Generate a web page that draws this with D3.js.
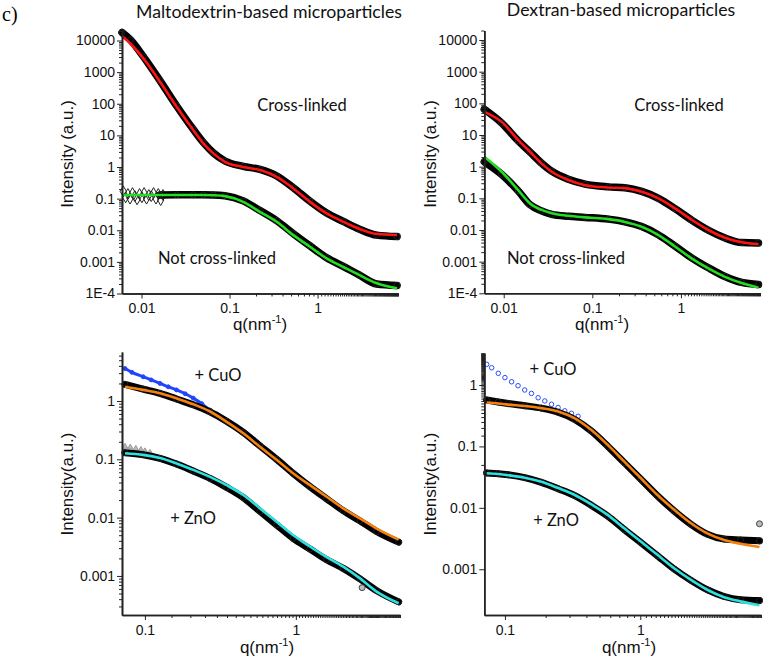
<!DOCTYPE html>
<meta charset="utf-8">
<style>
  body { margin: 0; background: #fff; }
  svg { font-family: "Liberation Sans", Arial, sans-serif; }
  .axis .tick text { font-size: 14px; fill: #111; font-family: "Liberation Sans", Arial, sans-serif; }
  .axis path { stroke: #222; stroke-width: 1.6; }
  .axis line { stroke: #222; stroke-width: 1; }
  .note { font-family: Lato, "Open Sans", sans-serif; font-size: 16.5px; fill: #111; }
  .title { font-family: Lato, "Open Sans", sans-serif; font-size: 17.7px; fill: #111; }
  .atitle { font-size: 17px; fill: #111; }
</style>
<svg width="764" height="659"></svg>
<script src="https://d3js.org/d3.v7.min.js"></script>
<script>

// ---- data ----
// top-left: maltodextrin, cross-linked / not cross-linked
var qMaltoTop = [0.006, 0.0075, 0.0105, 0.0162, 0.0251, 0.0387, 0.0503, 0.0655, 0.0887, 0.143, 0.222, 0.344, 0.531, 0.821, 1.27, 1.96, 3.0, 4.7, 8.0];
var maltoCrossData = [18000, 10500, 3100, 540, 85, 15.5, 6.0, 2.8, 1.55, 1.05, 0.84, 0.52, 0.22, 0.083, 0.035, 0.019, 0.0108, 0.0070, 0.0063];
var maltoCrossFit  = [14000, 7900, 2730, 497, 80, 14.7, 5.6, 2.7, 1.46, 1.0, 0.80, 0.49, 0.21, 0.079, 0.034, 0.0185, 0.011, 0.0076, 0.0071];
var maltoNotData   = [null, null, null, 0.13, 0.132, 0.132, 0.132, 0.131, 0.124, 0.085, 0.042, 0.020, 0.0078, 0.0032, 0.00135, 0.00072, 0.00038, 0.00020, 0.00018];
var maltoNotFit    = [0.13, 0.13, 0.13, 0.13, 0.13, 0.13, 0.13, 0.128, 0.12, 0.079, 0.038, 0.0185, 0.007, 0.003, 0.00128, 0.00069, 0.00038, 0.00021, 0.000145];
var qDiamond = [0.0062, 0.0066, 0.0070, 0.0074, 0.0079, 0.0084, 0.0089, 0.0095, 0.0101, 0.0107, 0.0114, 0.0121, 0.0129, 0.0137, 0.0146, 0.0155, 0.0165, 0.0175];
var iDiamond = [0.17, 0.11, 0.14, 0.10, 0.15, 0.12, 0.095, 0.14, 0.11, 0.15, 0.10, 0.13, 0.12, 0.15, 0.10, 0.14, 0.09, 0.13];

// top-right: dextran, cross-linked / not cross-linked
var qDextTop = [0.00604, 0.00948, 0.0146, 0.0198, 0.0267, 0.0348, 0.0537, 0.0829, 0.152, 0.234, 0.361, 0.557, 0.858, 1.32, 2.04, 3.14, 4.85, 7.5];
var dextCrossData = [65, 24, 6.5, 2.9, 1.3, 0.72, 0.40, 0.28, 0.23, 0.215, 0.165, 0.10, 0.047, 0.0205, 0.0098, 0.0056, 0.0040, 0.0039];
var dextCrossFit  = [54, 26, 6.9, 2.95, 1.27, 0.69, 0.38, 0.26, 0.22, 0.21, 0.16, 0.10, 0.048, 0.021, 0.010, 0.0057, 0.0041, 0.0036];
var dextNotData   = [1.43, 0.57, 0.17, 0.063, 0.040, 0.031, 0.027, 0.025, 0.022, 0.018, 0.0128, 0.0070, 0.0031, 0.00132, 0.00064, 0.00034, 0.00022, 0.00019];
var dextNotFit    = [2.06, 0.69, 0.18, 0.069, 0.043, 0.034, 0.028, 0.025, 0.022, 0.018, 0.0126, 0.0069, 0.0030, 0.00127, 0.00061, 0.00033, 0.00021, 0.00015];

// bottom-left: maltodextrin + CuO / + ZnO
var qMaltoBot = [0.0738, 0.0974, 0.126, 0.162, 0.209, 0.27, 0.348, 0.449, 0.579, 0.746, 0.962, 1.24, 1.6, 2.06, 2.66, 3.43, 4.8];
var maltoCuOData = [1.93, 1.6, 1.35, 1.08, 0.86, 0.65, 0.45, 0.29, 0.17, 0.10, 0.057, 0.034, 0.021, 0.0132, 0.0088, 0.0058, 0.0038];
var maltoCuOFit  = [1.76, 1.55, 1.36, 1.11, 0.88, 0.66, 0.44, 0.28, 0.164, 0.098, 0.057, 0.036, 0.0228, 0.0144, 0.0097, 0.0065, 0.0042];
var maltoZnOData = [0.13, 0.12, 0.104, 0.083, 0.063, 0.047, 0.033, 0.022, 0.0128, 0.0075, 0.0044, 0.0029, 0.0019, 0.00135, 0.00089, 0.00056, 0.00036];
var maltoZnOFit  = [0.127, 0.119, 0.105, 0.085, 0.066, 0.05, 0.036, 0.0244, 0.0144, 0.0085, 0.005, 0.0032, 0.0021, 0.00144, 0.00091, 0.00054, 0.00034];
var qMaltoCuORaw = [0.0738, 0.082, 0.0974, 0.11, 0.126, 0.143, 0.162, 0.185, 0.209, 0.238, 0.27, 0.3];
var maltoCuORaw  = [3.6, 3.1, 2.6, 2.3, 2.0, 1.75, 1.55, 1.33, 1.12, 0.9, 0.7, 0.6];
var qMaltoZnORaw = [0.0738, 0.080, 0.087, 0.094, 0.100, 0.108];
var maltoZnORaw  = [0.165, 0.160, 0.152, 0.145, 0.138, 0.130];

// bottom-right: dextran + CuO / + ZnO
var qDextBot = [0.0733, 0.0893, 0.1057, 0.14, 0.186, 0.247, 0.328, 0.435, 0.577, 0.765, 1.015, 1.346, 1.79, 2.37, 3.15, 4.17, 5.5, 7.6];
var dextCuOData = [0.57, 0.53, 0.50, 0.46, 0.42, 0.36, 0.275, 0.178, 0.10, 0.054, 0.029, 0.0155, 0.0088, 0.0054, 0.0037, 0.0031, 0.0030, 0.0029];
var dextCuOFit  = [0.52, 0.50, 0.48, 0.455, 0.42, 0.37, 0.286, 0.185, 0.105, 0.056, 0.030, 0.016, 0.0092, 0.0056, 0.0038, 0.003, 0.0026, 0.0023];
var dextZnOData = [0.037, 0.036, 0.0345, 0.031, 0.026, 0.0205, 0.0158, 0.011, 0.0073, 0.0044, 0.0027, 0.00165, 0.001, 0.00066, 0.00046, 0.00036, 0.00032, 0.00031];
var dextZnOFit  = [0.0365, 0.0355, 0.034, 0.031, 0.0266, 0.021, 0.0162, 0.0114, 0.0076, 0.0046, 0.0028, 0.0017, 0.00103, 0.00067, 0.00046, 0.00035, 0.0003, 0.00026];
var qDextCuORaw = [0.0733, 0.0798, 0.0893, 0.1, 0.112, 0.125, 0.140, 0.157, 0.176, 0.197, 0.221, 0.247, 0.277, 0.31, 0.347];
var dextCuORaw  = [2.17, 1.91, 1.55, 1.32, 1.13, 0.975, 0.83, 0.73, 0.62, 0.55, 0.485, 0.43, 0.38, 0.346, 0.31];

// tick labels
var yTicksTop = [1e-4, 1e-3, 1e-2, 0.1, 1, 10, 100, 1000, 10000];
var yLabelsTop = ["1E-4", "0.001", "0.01", "0.1", "1", "10", "100", "1000", "10000"];
var yTicksBot = [1e-3, 1e-2, 0.1, 1];
var yLabelsBot = ["0.001", "0.01", "0.1", "1"];
var xTicksTop = [0.01, 0.1, 1];
var xLabelsTop = ["0.01", "0.1", "1"];
var xTicksBot = [0.1, 1];
var xLabelsBot = ["0.1", "1"];

var svg = d3.select("svg");

function isPow10(v) {
  var l = Math.log10(v);
  return Math.abs(l - Math.round(l)) < 1e-9;
}

function panel(c) {
  var x = d3.scaleLog().domain(c.qDom).range([c.left, c.right]);
  var y = d3.scaleLog().domain(c.iDom).range([c.bottom, c.top]);
  var g = svg.append("g");

  var line = d3.line()
    .defined(function(d) { return d[1] != null; })
    .x(function(d) { return x(d[0]); })
    .y(function(d) { return y(d[1]); })
    .curve(d3.curveMonotoneX);

  function zip(q, v) { return q.map(function(d, i) { return [d, v[i]]; }); }

  // raw extra points (blue / grey) go under the main data
  (c.extra || []).forEach(function(e) {
    var pts = zip(e.q, e.v);
    if (e.band) {
      g.append("path").attr("d", line(pts)).attr("fill", "none")
        .attr("stroke", e.color).attr("stroke-width", e.band);
    }
    g.selectAll(null).data(pts).enter().append("path")
      .attr("transform", function(d) { return "translate(" + x(d[0]) + "," + y(d[1]) + ")"; })
      .attr("d", d3.symbol().type(e.symbol).size(e.size))
      .attr("fill", e.fill).attr("stroke", e.color).attr("stroke-width", 1);
  });

  c.series.forEach(function(s) {
    var pts = zip(c.q, s.data);
    g.append("path").attr("d", line(pts)).attr("fill", "none")
      .attr("stroke", "#000").attr("stroke-width", c.bandW)
      .attr("stroke-linejoin", "round").attr("stroke-linecap", "round");
    g.selectAll(null).data(pts.filter(function(d) { return d[1] != null; })).enter().append("circle")
      .attr("cx", function(d) { return x(d[0]); })
      .attr("cy", function(d) { return y(d[1]); })
      .attr("r", 3).attr("fill", "none").attr("stroke", "#222");
  });

  c.series.forEach(function(s) {
    g.append("path").attr("d", line(zip(c.q, s.fit))).attr("fill", "none")
      .attr("stroke", s.color).attr("stroke-width", 2.6);
  });

  (c.outliers || []).forEach(function(o) {
    g.append("circle").attr("cx", x(o[0])).attr("cy", y(o[1])).attr("r", 3)
      .attr("fill", "#bbb").attr("stroke", "#444");
  });

  // axes: minor then major ticks
  var minorX = x.ticks(80).filter(function(v) { return !isPow10(v); });
  var minorY = y.ticks(80).filter(function(v) { return !isPow10(v); });

  g.append("g").attr("class", "axis").attr("transform", "translate(0," + c.bottom + ")")
    .call(d3.axisBottom(x).tickValues(minorX).tickSize(3).tickSizeOuter(0).tickFormat(""));
  g.append("g").attr("class", "axis").attr("transform", "translate(0," + c.bottom + ")")
    .call(d3.axisBottom(x).tickValues(c.xTicks).tickSize(5).tickSizeOuter(0).tickPadding(5)
      .tickFormat(function(d, i) { return c.xLabels[i]; }));
  g.append("g").attr("class", "axis").attr("transform", "translate(" + c.left + ",0)")
    .call(d3.axisLeft(y).tickValues(minorY).tickSize(3).tickSizeOuter(0).tickFormat(""));
  g.append("g").attr("class", "axis").attr("transform", "translate(" + c.left + ",0)")
    .call(d3.axisLeft(y).tickValues(c.yTicks).tickSize(5).tickSizeOuter(0).tickPadding(2)
      .tickFormat(function(d, i) { return c.yLabels[i]; }));

  // axis titles
  var xt = g.append("text").attr("class", "atitle").attr("x", c.xTitle[0]).attr("y", c.xTitle[1])
    .attr("text-anchor", "middle");
  xt.append("tspan").text("q(nm");
  xt.append("tspan").attr("dy", -7).attr("font-size", 11).text("-1");
  xt.append("tspan").attr("dy", 7).text(")");

  g.append("text").attr("class", "atitle")
    .attr("transform", "translate(" + c.yTitle[0] + "," + c.yTitle[1] + ") rotate(-90)")
    .attr("text-anchor", "middle").attr("dy", "0.35em").text(c.yTitleText);

  c.notes.forEach(function(n) {
    g.append("text").attr("class", "note").attr("x", n[1]).attr("y", n[2])
      .attr("text-anchor", "middle").attr("dy", "0.35em").text(n[0]);
  });
}

panel({
  left: 122, right: 398, top: 30, bottom: 293.5,
  qDom: [0.006, 8.2], iDom: [1e-4, 21500],
  q: qMaltoTop, bandW: 7.5,
  series: [
    { data: maltoCrossData, fit: maltoCrossFit, color: "#ff1414" },
    { data: maltoNotData, fit: maltoNotFit, color: "#22dd22" }
  ],
  extra: [{ q: qDiamond, v: iDiamond, symbol: d3.symbolDiamond, size: 34, fill: "none", color: "#222" }],
  xTicks: xTicksTop, xLabels: xLabelsTop, yTicks: yTicksTop, yLabels: yLabelsTop,
  xTitle: [260, 330], yTitle: [67, 154], yTitleText: "Intensity (a.u.)",
  notes: [["Cross-linked", 302, 105], ["Not cross-linked", 217, 258]]
});

panel({
  left: 484.3, right: 760, top: 30.5, bottom: 293.3,
  qDom: [0.00604, 7.8], iDom: [1e-4, 20000],
  q: qDextTop, bandW: 7.5,
  series: [
    { data: dextCrossData, fit: dextCrossFit, color: "#ff1414" },
    { data: dextNotData, fit: dextNotFit, color: "#22dd22" }
  ],
  xTicks: xTicksTop, xLabels: xLabelsTop, yTicks: yTicksTop, yLabels: yLabelsTop,
  xTitle: [602, 330], yTitle: [430, 154], yTitleText: "Intensity (a.u.)",
  notes: [["Cross-linked", 679, 105], ["Not cross-linked", 566, 258]]
});

panel({
  left: 122, right: 400, top: 352, bottom: 615,
  qDom: [0.0705, 4.9], iDom: [2.14e-4, 6.92],
  q: qMaltoBot, bandW: 7,
  series: [
    { data: maltoCuOData, fit: maltoCuOFit, color: "#f5820f" },
    { data: maltoZnOData, fit: maltoZnOFit, color: "#2ee0e0" }
  ],
  extra: [
    { q: qMaltoCuORaw, v: maltoCuORaw, symbol: d3.symbolCircle, size: 12, fill: "#1f45ff", color: "#1f45ff", band: 3 },
    { q: qMaltoZnORaw, v: maltoZnORaw, symbol: d3.symbolTriangle, size: 14, fill: "#bbb", color: "#999" }
  ],
  outliers: [[2.75, 0.00063]],
  xTicks: xTicksBot, xLabels: xLabelsBot, yTicks: yTicksBot, yLabels: yLabelsBot,
  xTitle: [267, 653], yTitle: [67, 484], yTitleText: "Intensity(a.u.)",
  notes: [["+ CuO", 218, 375], ["+ ZnO", 193, 518]]
});

panel({
  left: 484.3, right: 761, top: 353, bottom: 615,
  qDom: [0.0704, 7.8], iDom: [1.8e-4, 3.32],
  q: qDextBot, bandW: 7,
  series: [
    { data: dextCuOData, fit: dextCuOFit, color: "#f5820f" },
    { data: dextZnOData, fit: dextZnOFit, color: "#2ee0e0" }
  ],
  extra: [{ q: qDextCuORaw, v: dextCuORaw, symbol: d3.symbolCircle, size: 16, fill: "none", color: "#2a4cff" }],
  outliers: [[7.6, 0.0055]],
  xTicks: xTicksBot, xLabels: xLabelsBot, yTicks: yTicksBot, yLabels: yLabelsBot,
  xTitle: [629, 653], yTitle: [430, 484], yTitleText: "Intensity(a.u.)",
  notes: [["+ CuO", 553, 369], ["+ ZnO", 556, 520]]
});

// panel titles
svg.append("text").attr("x", 2).attr("y", 21)
  .style("font-family", "'Liberation Serif', 'Times New Roman', serif").style("font-size", "20px")
  .text("c)");
svg.append("text").attr("class", "title").attr("x", 269).attr("y", 12).attr("dy", "0.35em")
  .attr("text-anchor", "middle").text("Maltodextrin-based microparticles");
svg.append("text").attr("class", "title").attr("x", 621).attr("y", 10).attr("dy", "0.35em")
  .attr("text-anchor", "middle").text("Dextran-based microparticles");

</script>
